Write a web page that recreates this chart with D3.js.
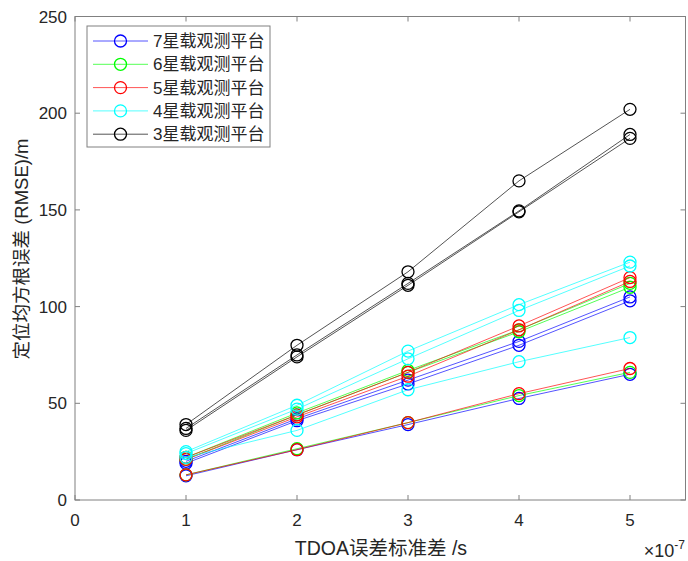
<!DOCTYPE html>
<html>
<head>
<meta charset="utf-8">
<script src="https://cdn.jsdelivr.net/npm/d3@7"></script>
<style>
  body { margin: 0; background: #fff; }
  text { font-family: Arial, "Liberation Sans", "Noto Sans CJK SC", sans-serif; }
</style>
</head>
<body>
<svg id="chart" width="688" height="561"></svg>
<script>
// x values (units of 1e-7 s)
var xVals = [1, 2, 3, 4, 5];
var xTicks = [0, 1, 2, 3, 4, 5];
var yTicks = [0, 50, 100, 150, 200, 250];

var legendNames = ["7星载观测平台", "6星载观测平台", "5星载观测平台", "4星载观测平台", "3星载观测平台"];
var colors = ["#0000ff", "#00ff00", "#ff0000", "#00ffff", "#000000"];

// three runs per platform count
var sat7 = [
  [20, 42, 62, 82, 105],
  [19, 41, 60, 80, 103],
  [12.5, 26, 39, 52.5, 65]
];
var sat6 = [
  [22, 45, 67, 88, 112],
  [21, 44, 66, 87, 110],
  [13, 26.5, 40, 54, 66]
];
var sat5 = [
  [22, 44, 66, 90, 115],
  [21, 43, 64, 88, 113],
  [13, 26, 40, 55, 68]
];
var sat4 = [
  [25, 49, 77, 101, 123],
  [24, 47, 73, 98, 121],
  [22, 36, 57, 71.5, 84]
];
var sat3 = [
  [39, 80, 118, 165, 202],
  [37, 75, 112, 149.5, 189],
  [36, 74, 111, 149, 187]
];
var allSeries = [sat7, sat6, sat5, sat4, sat3];

var svg = d3.select("#chart");
var mLeft = 75, mRight = 685.5, mTop = 16.5, mBottom = 500;

var x = d3.scaleLinear().domain([0, 5.5]).range([mLeft, mRight]);
var y = d3.scaleLinear().domain([0, 250]).range([mBottom, mTop]);

var axisColor = "#808080";
var textColor = "#262626";
var fs = 17;

// box
svg.append("rect")
  .attr("x", mLeft).attr("y", mTop)
  .attr("width", mRight - mLeft).attr("height", mBottom - mTop)
  .attr("fill", "none").attr("stroke", axisColor).attr("stroke-width", 1);

// ticks, inward, on all four sides
var tickLen = 5;
xTicks.forEach(function(t) {
  svg.append("line").attr("x1", x(t)).attr("x2", x(t)).attr("y1", mBottom).attr("y2", mBottom - tickLen)
    .attr("stroke", axisColor);
  svg.append("line").attr("x1", x(t)).attr("x2", x(t)).attr("y1", mTop).attr("y2", mTop + tickLen)
    .attr("stroke", axisColor);
  svg.append("text").attr("x", x(t)).attr("y", mBottom + 26)
    .attr("text-anchor", "middle").attr("font-size", fs).attr("fill", textColor).text(t);
});
yTicks.forEach(function(t) {
  svg.append("line").attr("x1", mLeft).attr("x2", mLeft + tickLen).attr("y1", y(t)).attr("y2", y(t))
    .attr("stroke", axisColor);
  svg.append("line").attr("x1", mRight).attr("x2", mRight - tickLen).attr("y1", y(t)).attr("y2", y(t))
    .attr("stroke", axisColor);
  svg.append("text").attr("x", mLeft - 8).attr("y", y(t) + 6)
    .attr("text-anchor", "end").attr("font-size", fs).attr("fill", textColor).text(t);
});

// axis labels
svg.append("text").attr("x", 381).attr("y", 555)
  .attr("text-anchor", "middle").attr("font-size", 19.5).attr("fill", textColor)
  .text("TDOA误差标准差 /s");

var expo = svg.append("text").attr("x", 685).attr("y", 557)
  .attr("text-anchor", "end").attr("font-size", 18).attr("fill", textColor);
expo.append("tspan").text("×10");
expo.append("tspan").attr("dy", -8).attr("font-size", 12).text("-7");

svg.append("text")
  .attr("transform", "translate(28,249) rotate(-90)")
  .attr("text-anchor", "middle").attr("font-size", 18.5).attr("fill", textColor)
  .text("定位均方根误差 (RMSE)/m");

// lines and markers
var line = d3.line()
  .x(function(d, i) { return x(xVals[i]); })
  .y(function(d) { return y(d); });

allSeries.forEach(function(group, gi) {
  group.forEach(function(vals) {
    svg.append("path").datum(vals)
      .attr("d", line)
      .attr("fill", "none")
      .attr("stroke", colors[gi])
      .attr("stroke-width", 0.9)
      .attr("stroke-opacity", 0.75);
    svg.selectAll(null).data(vals).enter().append("circle")
      .attr("cx", function(d, i) { return x(xVals[i]); })
      .attr("cy", function(d) { return y(d); })
      .attr("r", 6)
      .attr("fill", "none")
      .attr("stroke", colors[gi])
      .attr("stroke-width", 1.3);
  });
});

// legend
var lg = svg.append("g");
lg.append("rect").attr("x", 87).attr("y", 26).attr("width", 183).attr("height", 121)
  .attr("fill", "#fff").attr("stroke", axisColor).attr("stroke-width", 1);
legendNames.forEach(function(name, i) {
  var ly = 41 + i * 23.3;
  lg.append("line").attr("x1", 93).attr("x2", 148).attr("y1", ly).attr("y2", ly)
    .attr("stroke", colors[i]).attr("stroke-width", 0.9).attr("stroke-opacity", 0.75);
  lg.append("circle").attr("cx", 120.5).attr("cy", ly).attr("r", 6)
    .attr("fill", "none").attr("stroke", colors[i]).attr("stroke-width", 1.3);
  lg.append("text").attr("x", 153).attr("y", ly + 6)
    .attr("font-size", fs).attr("fill", textColor).text(name);
});
</script>
</body>
</html>
